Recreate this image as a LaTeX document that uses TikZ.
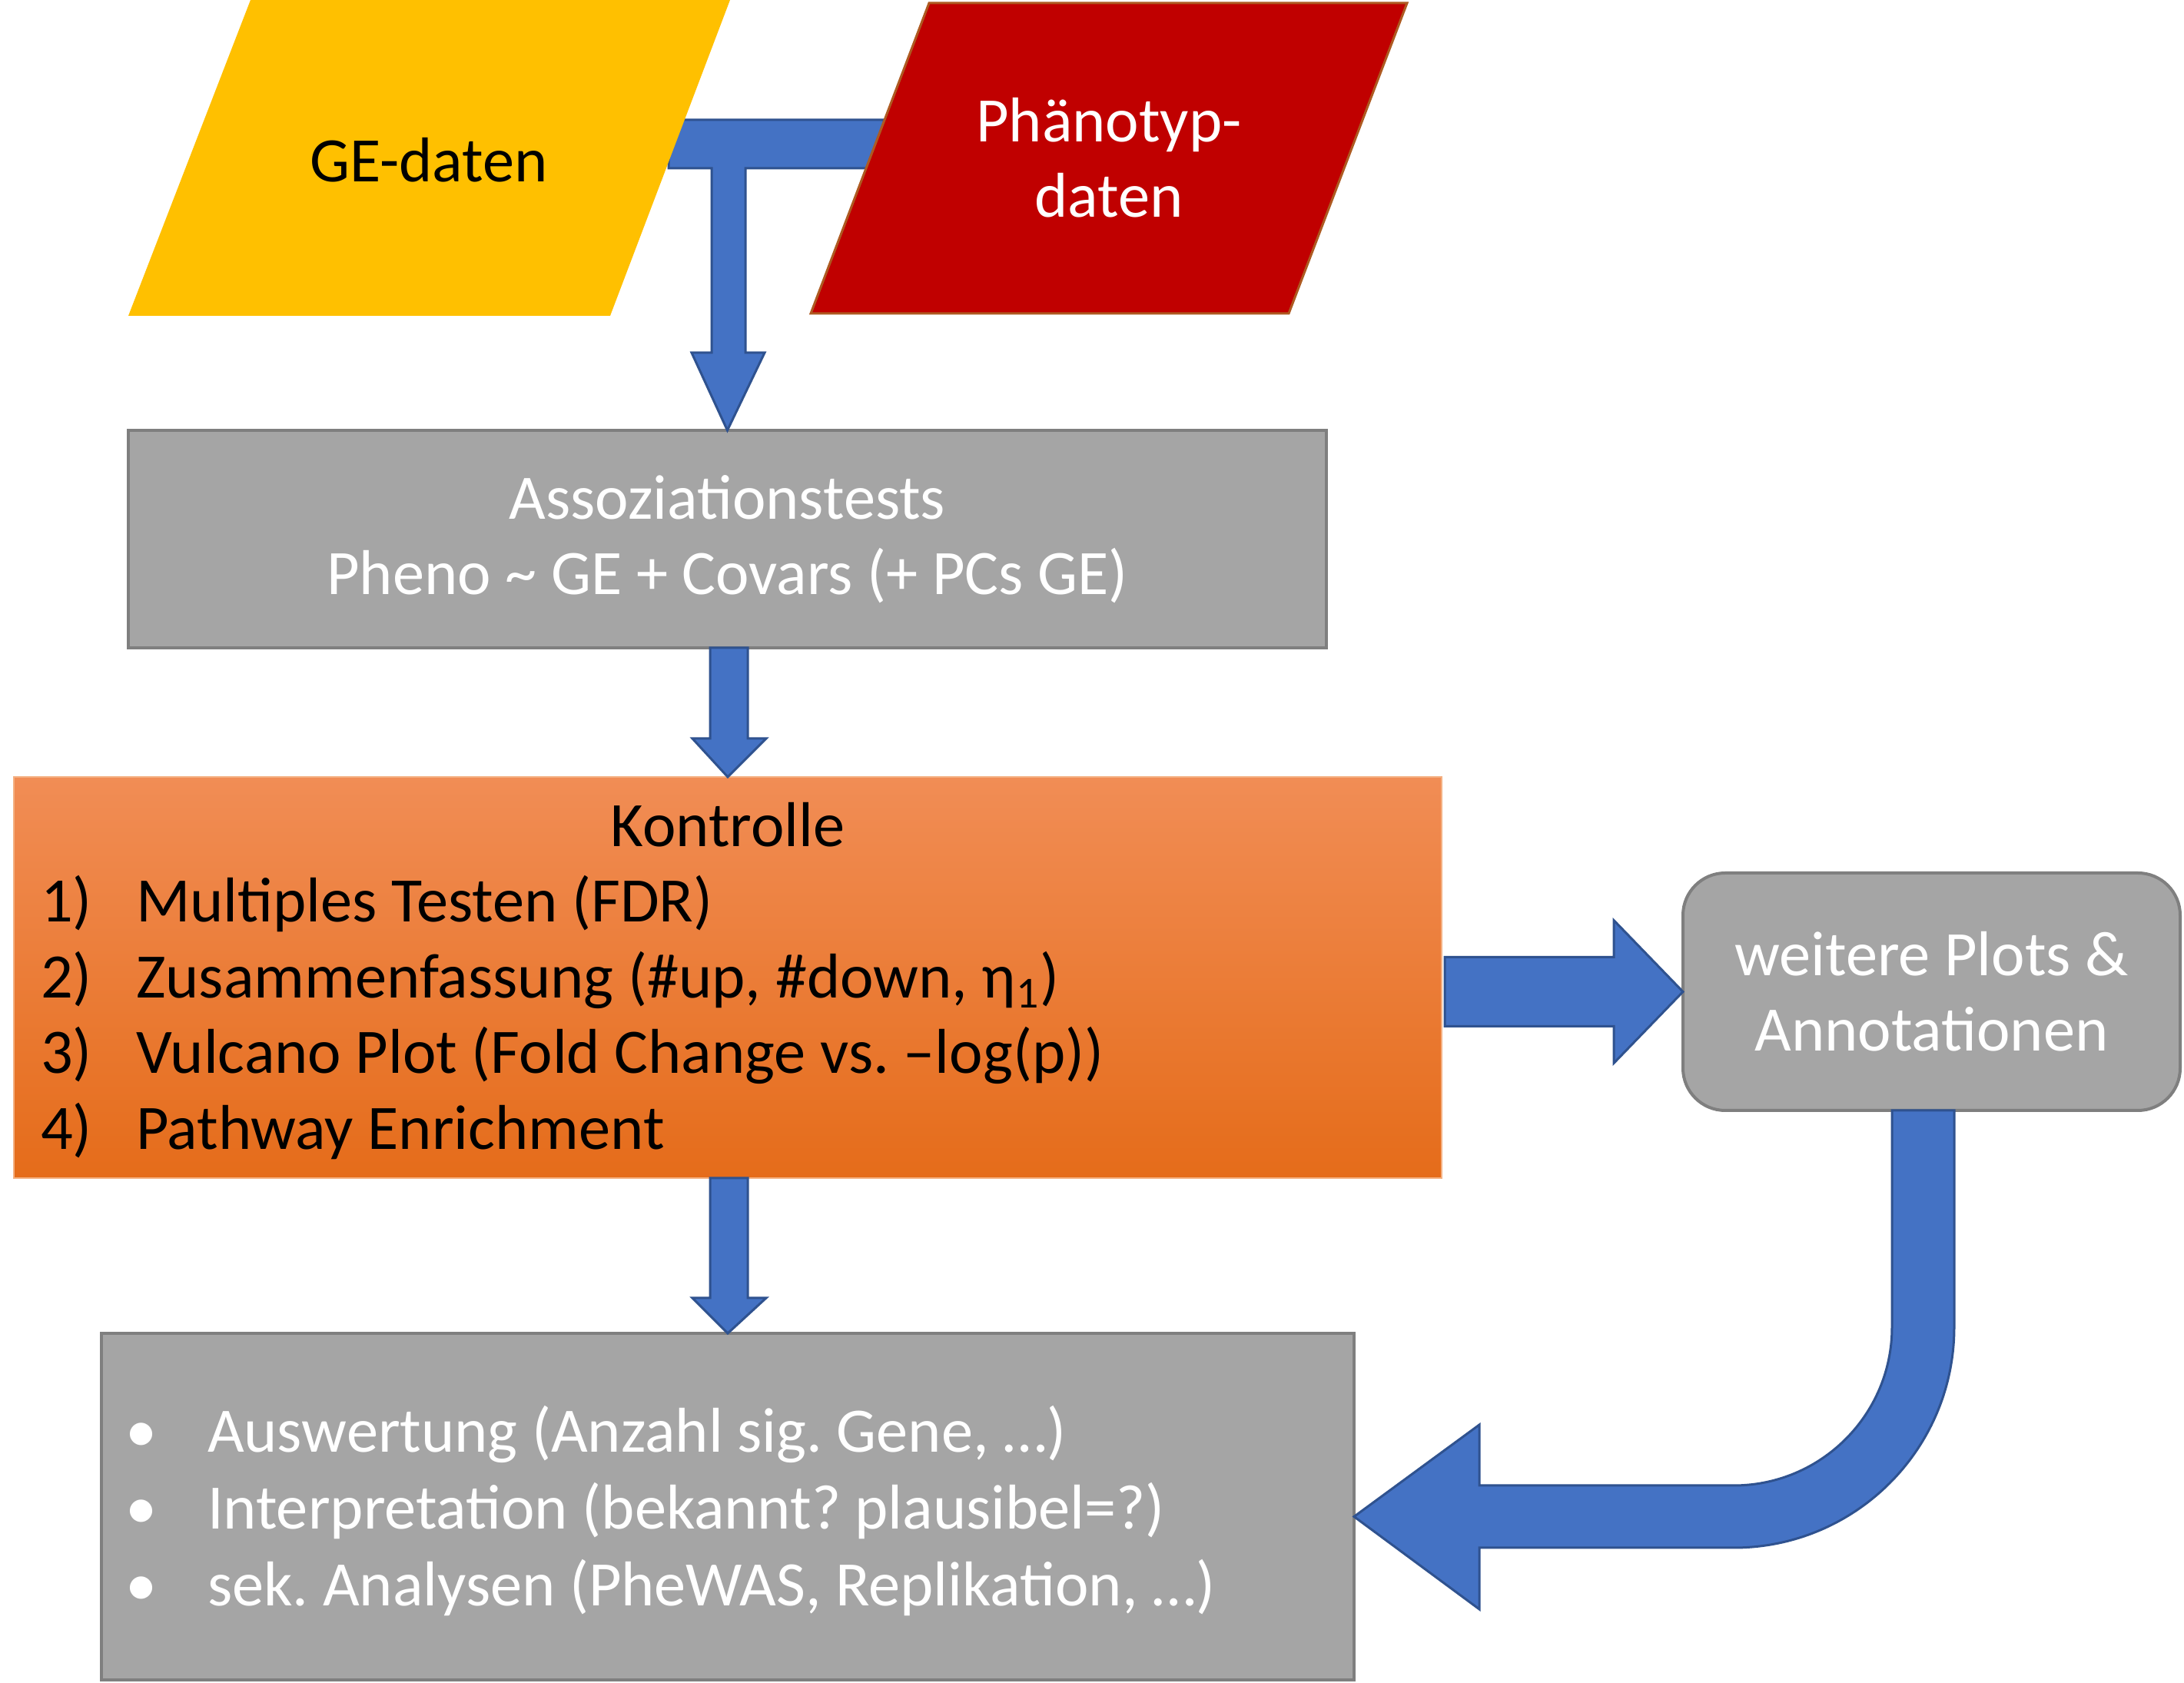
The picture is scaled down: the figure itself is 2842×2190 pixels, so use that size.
\documentclass[tikz,border=0pt]{standalone}
\usepackage{fontspec}
\setmainfont{Carlito}
\usetikzlibrary{calc}
\definecolor{blueA}{RGB}{68,114,196}
\definecolor{blueB}{RGB}{47,82,143}
\definecolor{grayF}{RGB}{165,165,165}
\definecolor{grayB}{RGB}{127,127,127}
\definecolor{yel}{RGB}{255,192,0}
\definecolor{redF}{RGB}{192,0,0}
\definecolor{redB}{RGB}{174,90,33}
\definecolor{orT}{RGB}{241,141,85}
\definecolor{orB}{RGB}{229,108,26}
\definecolor{orL}{RGB}{244,177,131}
\frenchspacing
\begin{document}
\begin{tikzpicture}[x=0.25pt,y=-0.25pt,
  txt/.style={font=\fontsize{20.6pt}{24.5pt}\selectfont, inner sep=0pt, outer sep=0pt},
  box/.style={draw=grayB, line width=1pt, fill=grayF, inner sep=0pt, outer sep=0pt},
  blockarrow/.style={fill=blueA, draw=blueB, line width=0.75pt, line join=miter},
  para/.style={line join=miter}]
\fill[white] (0,0) rectangle (2842,2190);
\useasboundingbox (0,0) rectangle (2842,2190);

% boxes
\node[box, txt, text=white, align=center, minimum width=389.75pt, minimum height=70.75pt] (assoc) at (946.5,701.5)
  {Assoziationstests\\Pheno \textasciitilde{} GE + Covars (+ PCs GE)};
\node[draw=orL, line width=0.5pt, top color=orT, bottom color=orB, minimum width=464.5pt, minimum height=130.5pt, inner sep=0pt, outer sep=0pt] (ctrl) at (947,1272) {};
\node[box, txt, text=white, align=center, rounded corners=13.75pt, minimum width=161.75pt, minimum height=77.25pt] (more) at (2513.5,1290.5)
  {weitere Plots \&\\Annotationen};
\node[box, minimum width=407.5pt, minimum height=112.75pt] (eval) at (947,1960.5) {};

% input connectors (T-shaped block arrow, drawn under the data shapes)
\coordinate (gein) at (870,187.5);
\coordinate (phin) at (1150,187.5);
\draw[blockarrow]
  ($(gein)+(0,-31.5)$) -- ($(phin)+(0,-31.5)$) -- ($(phin)+(0,31.5)$)
  -- ($(assoc.north)+(23.5,-341)$) -- ($(assoc.north)+(23.5,-101)$) -- ($(assoc.north)+(48.5,-101)$)
  -- (assoc.north)
  -- ($(assoc.north)+(-46.5,-101)$) -- ($(assoc.north)+(-20.5,-101)$) -- ($(assoc.north)+(-20.5,-341)$)
  -- ($(gein)+(0,31.5)$) -- cycle;

% data shapes
\fill[yel, para] (167,411) -- (794,411) -- (950,0) -- (326,0) -- cycle;
\filldraw[fill=redF, draw=redB, line width=0.75pt, para] (1055,408) -- (1677,408) -- (1831,4) -- (1209,4) -- cycle;
\node[txt] (ge) at (558,208) {GE-daten};
\node[txt, text=white, align=center] (pheno) at (1443,205) {Phänotyp-\\daten};

% Kontrolle text
\node[txt, anchor=base] (ktitle) at (947,1102) {Kontrolle};
\node[txt, anchor=base west] (n1) at (53,1200) {1)};
\node[txt, anchor=base west] (n2) at (53,1299) {2)};
\node[txt, anchor=base west] (n3) at (53,1397) {3)};
\node[txt, anchor=base west] (n4) at (53,1496) {4)};
\node[txt, anchor=base west] (k1) at (177,1200) {Multiples Testen (FDR)};
\node[txt, anchor=base west] (k2) at (177,1299) {Zusammenfassung (\#up, \#down, η\textsubscript{1})};
\node[txt, anchor=base west] (k3) at (177,1397) {Vulcano Plot (Fold Change vs. –log(p))};
\node[txt, anchor=base west] (k4) at (177,1496) {Pathway Enrichment};

% evaluation text
\node[txt, text=white, anchor=base west] (b1) at (164,1890) {•};
\node[txt, text=white, anchor=base west] (b2) at (164,1990) {•};
\node[txt, text=white, anchor=base west] (b3) at (164,2090) {•};
\node[txt, text=white, anchor=base west] (e1) at (270,1890) {Auswertung (Anzahl sig. Gene, …)};
\node[txt, text=white, anchor=base west] (e2) at (270,1990) {Interpretation (bekannt? plausibel=?)};
\node[txt, text=white, anchor=base west] (e3) at (270,2090) {sek. Analysen (PheWAS, Replikation, …)};

% assoc -> ctrl
\draw[blockarrow]
  ($(assoc.south)+(-22.5,0)$) -- ($(ctrl.north)+(-23,-50)$) -- ($(ctrl.north)+(-46,-50)$)
  -- (ctrl.north)
  -- ($(ctrl.north)+(50,-50)$) -- ($(ctrl.north)+(26,-50)$) -- ($(assoc.south)+(26.5,0)$) -- cycle;

% ctrl -> eval
\draw[blockarrow]
  ($(ctrl.south)+(-23,0)$) -- ($(eval.north)+(-23,-46)$) -- ($(eval.north)+(-46,-46)$)
  -- (eval.north)
  -- ($(eval.north)+(50,-46)$) -- ($(eval.north)+(26,-46)$) -- ($(ctrl.south)+(26,0)$) -- cycle;

% ctrl -> more
\coordinate (cm) at (ctrl.east |- more.west);
\draw[blockarrow]
  ($(cm)+(4,-45)$) -- ($(more.west)+(-90,-45)$) -- ($(more.west)+(-90,-93)$)
  -- (more.west)
  -- ($(more.west)+(-90,93)$) -- ($(more.west)+(-90,45)$) -- ($(cm)+(4,45)$) -- cycle;

% more -> eval (curved)
\coordinate (tip) at ($(eval.east)+(0,13)$);
\draw[blockarrow]
  ($(more.south)+(-51.5,0)$) -- ($(more.south)+(-51.5,282)$)
  .. controls ($(more.south)+(-51.5,395.8)$) and ($(more.south)+(-143.7,488)$) .. ($(more.south)+(-257.5,488)$)
  -- ($(tip)+(163,-40.5)$) -- ($(tip)+(163,-119.5)$)
  -- (tip)
  -- ($(tip)+(163,120.5)$) -- ($(tip)+(163,40.5)$)
  -- ($(more.south)+(-257.5,569)$)
  .. controls ($(more.south)+(-99,569)$) and ($(more.south)+(29.5,440.5)$) .. ($(more.south)+(29.5,282)$)
  -- ($(more.south)+(29.5,0)$) -- cycle;
\end{tikzpicture}
\end{document}
